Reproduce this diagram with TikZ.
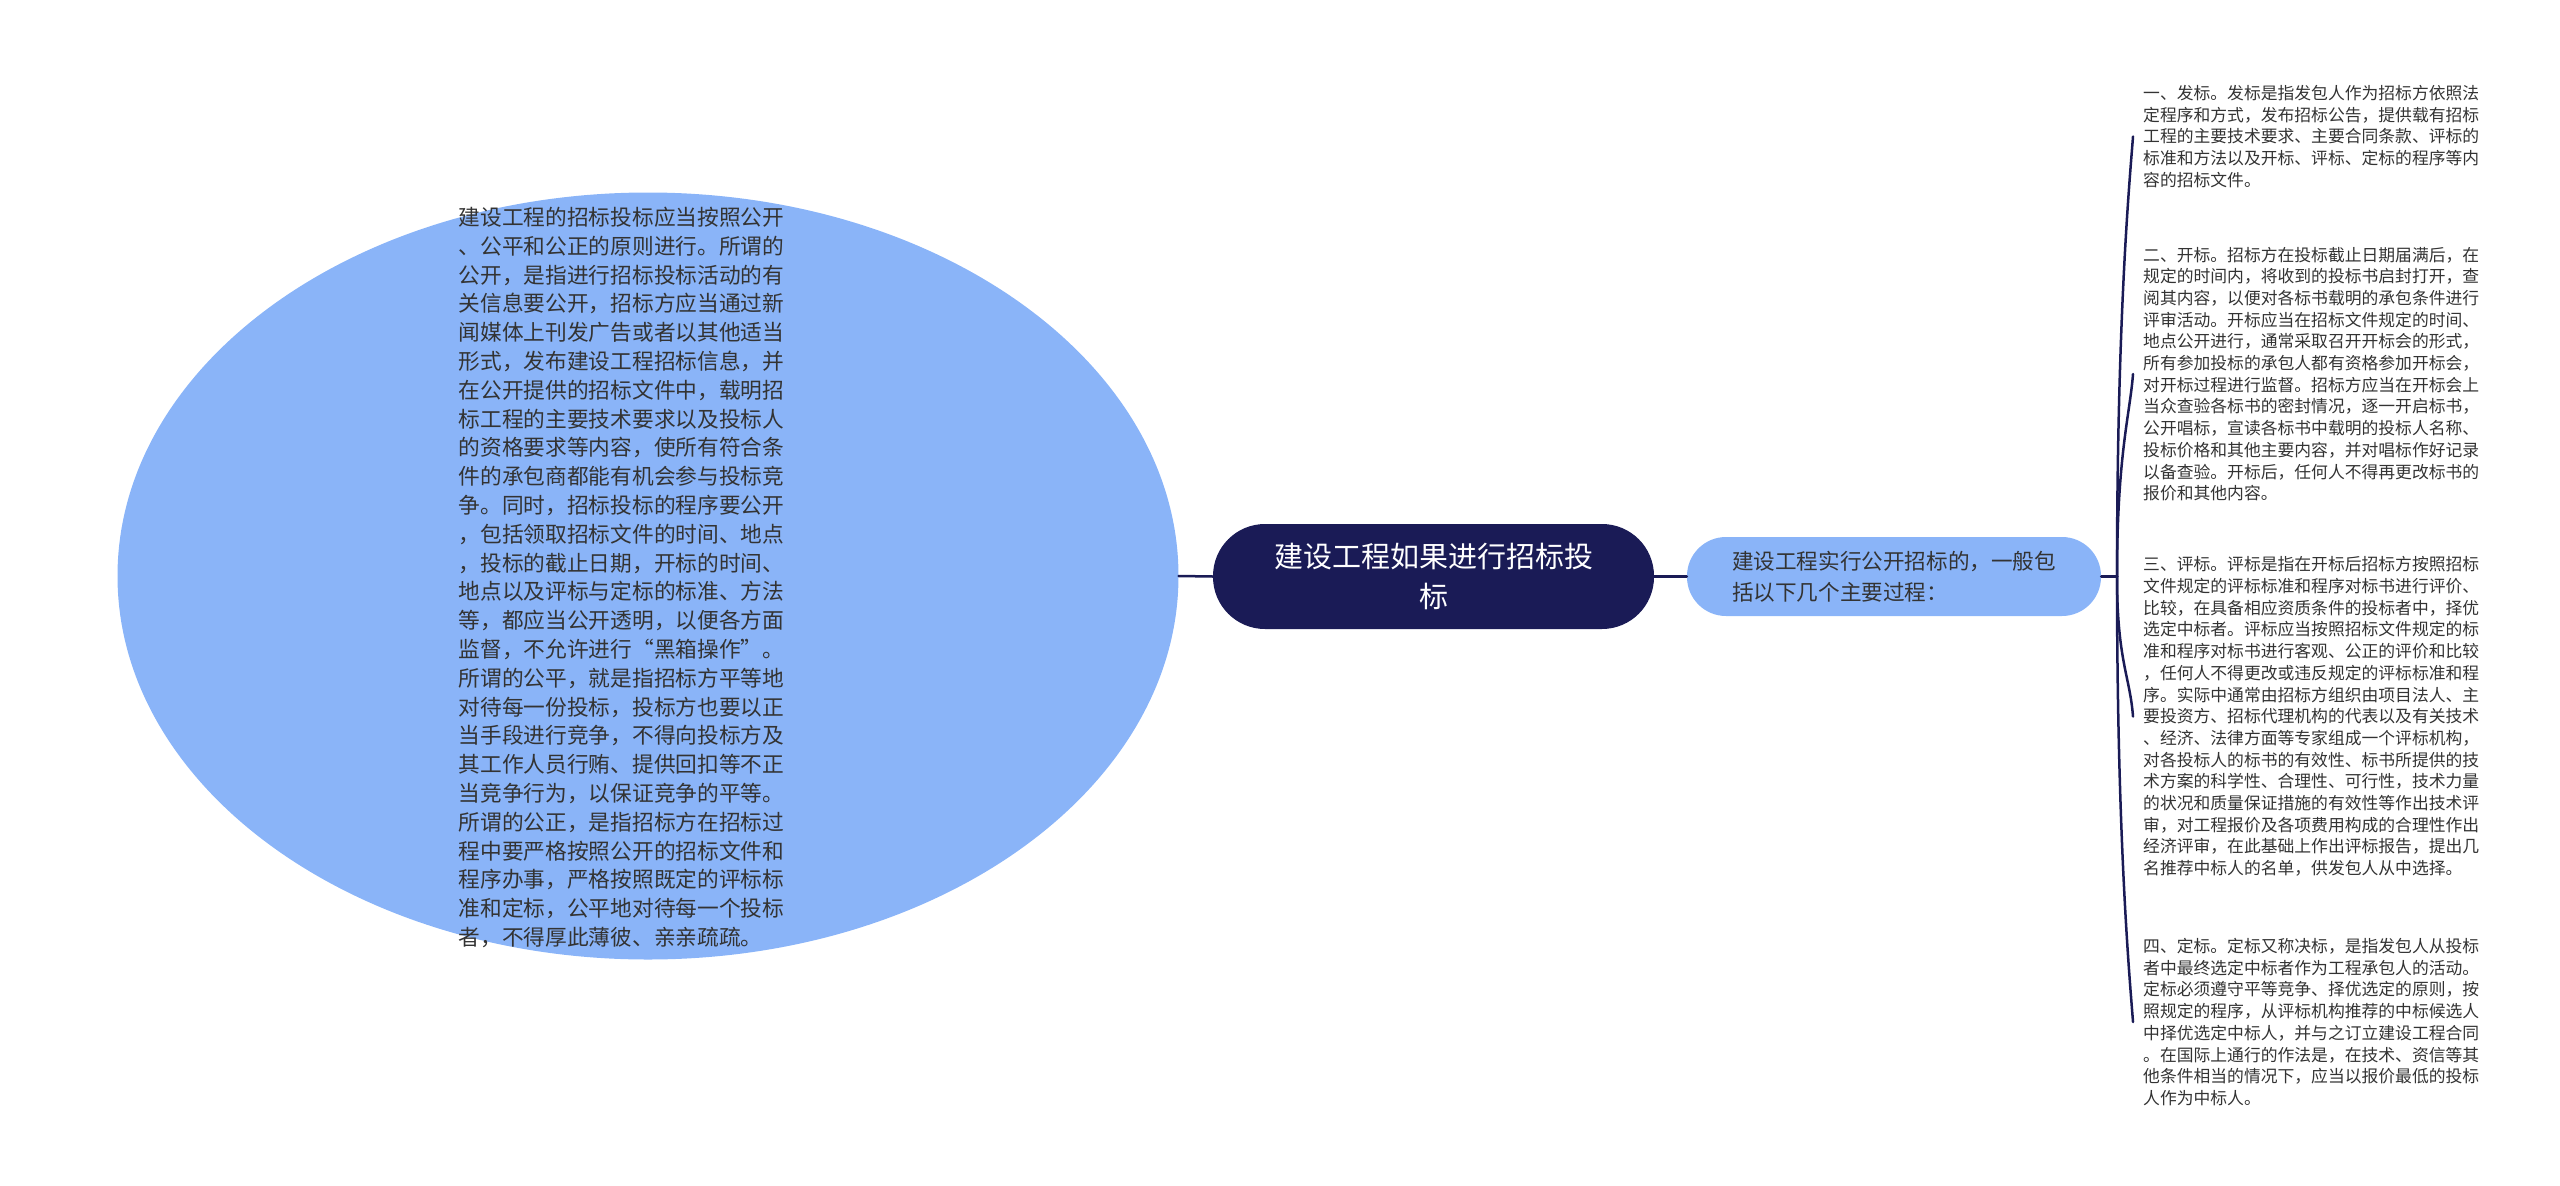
\documentclass[tikz,border=0pt]{standalone}
\usepackage{fontspec}
\setmainfont{Noto Sans CJK SC}
\usetikzlibrary{shapes.geometric,calc}
\definecolor{navy}{HTML}{1A1B56}
\definecolor{skyblue}{HTML}{8AB4F8}
\definecolor{inkgray}{HTML}{333333}
\begin{document}
\begin{tikzpicture}[x=1pt, y=-1pt, line join=round, line cap=round,
	link/.style={draw=navy, line width=2.5pt},
	bubble/.style={ellipse, fill=skyblue, inner sep=0pt, minimum width=1061pt, minimum height=767pt},
	bodytext/.style={inner sep=0pt, align=left, text=inkgray, font=\fontsize{21.7}{28.8}\selectfont},
	topic/.style={fill=navy, text=white, rounded corners=52pt, minimum width=441pt, minimum height=105pt, align=center, font=\fontsize{29}{40}\selectfont},
	subtopic/.style={fill=skyblue, text=inkgray, rounded corners=39pt, minimum width=414pt, minimum height=79pt, align=left, font=\fontsize{21.6}{31}\selectfont},
	leaf/.style={anchor=west, inner sep=0pt, align=left, text=inkgray, font=\fontsize{16.8}{21.7}\selectfont}]
				\useasboundingbox (0,0) rectangle (2560,1186);
				\node[bubble] (intro) at (648,576) {};
				\node[bodytext] (introtext) at (621.5,577.5) {建设工程的招标投标应当按照公开\\、公平和公正的原则进行。所谓的\\公开，是指进行招标投标活动的有\\关信息要公开，招标方应当通过新\\闻媒体上刊发广告或者以其他适当\\形式，发布建设工程招标信息，并\\在公开提供的招标文件中，载明招\\标工程的主要技术要求以及投标人\\的资格要求等内容，使所有符合条\\件的承包商都能有机会参与投标竞\\争。同时，招标投标的程序要公开\\，包括领取招标文件的时间、地点\\，投标的截止日期，开标的时间、\\地点以及评标与定标的标准、方法\\等，都应当公开透明，以便各方面\\监督，不允许进行“黑箱操作”。\\所谓的公平，就是指招标方平等地\\对待每一份投标，投标方也要以正\\当手段进行竞争，不得向投标方及\\其工作人员行贿、提供回扣等不正\\当竞争行为，以保证竞争的平等。\\所谓的公正，是指招标方在招标过\\程中要严格按照公开的招标文件和\\程序办事，严格按照既定的评标标\\准和定标，公平地对待每一个投标\\者，不得厚此薄彼、亲亲疏疏。};
				\node[topic] (root) at (1433.5,576.5) {建设工程如果进行招标投\\标};
				\node[subtopic] (process) at (1894,576.5) {建设工程实行公开招标的，一般包\\括以下几个主要过程：};
				\node[leaf] (fabiao) at (2143,136.5) {一、发标。发标是指发包人作为招标方依照法\\定程序和方式，发布招标公告，提供载有招标\\工程的主要技术要求、主要合同条款、评标的\\标准和方法以及开标、评标、定标的程序等内\\容的招标文件。};
				\node[leaf] (kaibiao) at (2143,374) {二、开标。招标方在投标截止日期届满后，在\\规定的时间内，将收到的投标书启封打开，查\\阅其内容，以便对各标书载明的承包条件进行\\评审活动。开标应当在招标文件规定的时间、\\地点公开进行，通常采取召开开标会的形式，\\所有参加投标的承包人都有资格参加开标会，\\对开标过程进行监督。招标方应当在开标会上\\当众查验各标书的密封情况，逐一开启标书，\\公开唱标，宣读各标书中载明的投标人名称、\\投标价格和其他主要内容，并对唱标作好记录\\以备查验。开标后，任何人不得再更改标书的\\报价和其他内容。};
				\node[leaf] (pingbiao) at (2143,716.5) {三、评标。评标是指在开标后招标方按照招标\\文件规定的评标标准和程序对标书进行评价、\\比较，在具备相应资质条件的投标者中，择优\\选定中标者。评标应当按照招标文件规定的标\\准和程序对标书进行客观、公正的评价和比较\\，任何人不得更改或违反规定的评标标准和程\\序。实际中通常由招标方组织由项目法人、主\\要投资方、招标代理机构的代表以及有关技术\\、经济、法律方面等专家组成一个评标机构，\\对各投标人的标书的有效性、标书所提供的技\\术方案的科学性、合理性、可行性，技术力量\\的状况和质量保证措施的有效性等作出技术评\\审，对工程报价及各项费用构成的合理性作出\\经济评审，在此基础上作出评标报告，提出几\\名推荐中标人的名单，供发包人从中选择。};
				\node[leaf] (dingbiao) at (2143,1022) {四、定标。定标又称决标，是指发包人从投标\\者中最终选定中标者作为工程承包人的活动。\\定标必须遵守平等竞争、择优选定的原则，按\\照规定的程序，从评标机构推荐的中标候选人\\中择优选定中标人，并与之订立建设工程合同\\。在国际上通行的作法是，在技术、资信等其\\他条件相当的情况下，应当以报价最低的投标\\人作为中标人。};
				\coordinate (trunk) at (2117,576.5);
				\draw[link] (intro.east) -- (root.west);
				\draw[link] (root.east) -- (process.west);
				\draw[link] (process.east) -- (trunk);
				\foreach \c/\s in {fabiao/-1,kaibiao/-1,pingbiao/1,dingbiao/1} \draw[link] (trunk) .. controls ($(trunk)!0.6!(trunk |- \c.west)$) and ([xshift=-13pt,yshift=\s*40pt]\c.west) .. ([xshift=-10pt]\c.west);
			\end{tikzpicture}
\end{document}
